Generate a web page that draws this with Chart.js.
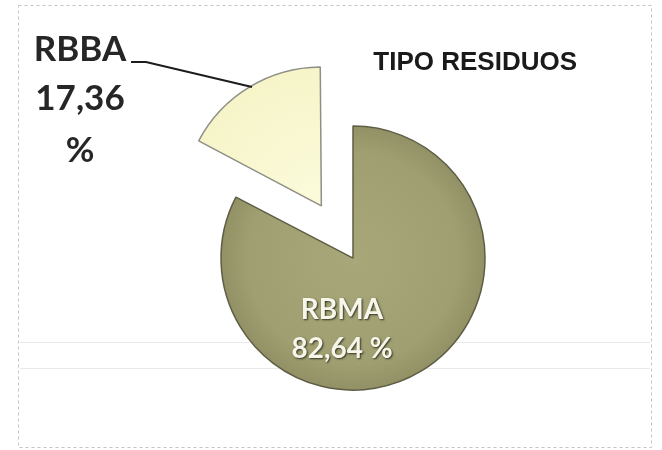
<!DOCTYPE html>
<html>
<head>
<meta charset="utf-8">
<title>Tipo residuos</title>
<script src="https://cdn.jsdelivr.net/npm/chart.js@4"></script>
<style>
  html, body { margin: 0; padding: 0; background: #fff; }
  #wrap { position: relative; width: 662px; height: 450px; }
</style>
</head>
<body>
<div id="wrap"><canvas id="residuosChart"></canvas></div>
<script>
const categories = ["RBMA", "RBBA"];
const percentages = [82.64, 17.36];
const chartTitle = "TIPO RESIDUOS";

const fmt = (v) => v.toFixed(2).replace(".", ",");

// frame + faint scan lines behind the pie
const framePlugin = {
  id: "frame",
  beforeDatasetsDraw(chart) {
    const ctx = chart.ctx;
    ctx.save();
    ctx.strokeStyle = "#e9e9e9";
    ctx.lineWidth = 1;
    [342.5, 368.5].forEach((y) => {
      ctx.beginPath();
      ctx.moveTo(20, y);
      ctx.lineTo(650, y);
      ctx.stroke();
    });
    ctx.strokeStyle = "#c4c4c4";
    ctx.setLineDash([3, 3]);
    ctx.strokeRect(18.5, 5.5, 633, 442);
    ctx.restore();
  },
};

// data labels: RBMA inside, RBBA outside with leader line
const labelPlugin = {
  id: "sliceLabels",
  afterDatasetsDraw(chart) {
    const ctx = chart.ctx;
    const arcs = chart.getDatasetMeta(0).data;
    const big = arcs[0];
    const r = big.outerRadius;

    ctx.save();
    ctx.textAlign = "center";
    ctx.textBaseline = "middle";

    // inside label
    ctx.font = "bold 28px Lato";
    ctx.fillStyle = "#f7f6ea";
    ctx.shadowColor = "rgba(30,30,20,0.85)";
    ctx.shadowBlur = 2;
    ctx.shadowOffsetX = 1;
    ctx.shadowOffsetY = 1;
    const ix = big.x - 0.083 * r;
    ctx.fillText(categories[0], ix, big.y + 0.39 * r);
    ctx.fillText(fmt(percentages[0]) + " %", ix, big.y + 0.685 * r);

    // outside label
    ctx.shadowColor = "transparent";
    ctx.font = "bold 35px Lato";
    ctx.fillStyle = "#262626";
    ctx.fillText(categories[1], 80, 50);
    ctx.fillText(fmt(percentages[1]), 80, 99);
    ctx.fillText("%", 80, 151);

    ctx.strokeStyle = "#1c1c1c";
    ctx.lineWidth = 2;
    ctx.beginPath();
    ctx.moveTo(131, 62);
    ctx.lineTo(146, 62);
    ctx.lineTo(252, 87);
    ctx.stroke();
    ctx.restore();
  },
};

function sliceFill(context) {
  const chart = context.chart;
  const area = chart.chartArea;
  if (!area) return null;
  const cx = (area.left + area.right) / 2;
  const cy = (area.top + area.bottom) / 2;
  const g = chart.ctx.createRadialGradient(cx, cy, 0, cx, cy, 140);
  if (context.dataIndex === 0) {
    g.addColorStop(0, "#a8a77a");
    g.addColorStop(0.75, "#a09f71");
    g.addColorStop(1, "#8e8d62");
  } else {
    g.addColorStop(0, "#fcfbdc");
    g.addColorStop(1, "#f6f4c8");
  }
  return g;
}

new Chart(document.querySelector("#residuosChart"), {
  type: "pie",
  data: {
    labels: categories,
    datasets: [
      {
        data: percentages,
        backgroundColor: sliceFill,
        borderColor: ["#5e5d45", "#8f8f86"],
        borderWidth: 1.5,
        // arc draws offset/4 (+ a small fix), so ~68px shift for the small slice
        offset: [0, 244],
        clip: false,
      },
    ],
  },
  options: {
    responsive: true,
    maintainAspectRatio: false,
    animation: false,
    radius: 132,
    layout: {
      padding: { top: 0, left: 129, right: 85, bottom: 25 },
    },
    plugins: {
      legend: { display: false },
      tooltip: { enabled: false },
      title: {
        display: true,
        text: chartTitle,
        align: "end",
        color: "#1a1a1a",
        font: { family: "Liberation Sans", size: 26, weight: "bold" },
        padding: { top: 47, bottom: 13 },
      },
    },
  },
  plugins: [framePlugin, labelPlugin],
});
</script>
</body>
</html>
